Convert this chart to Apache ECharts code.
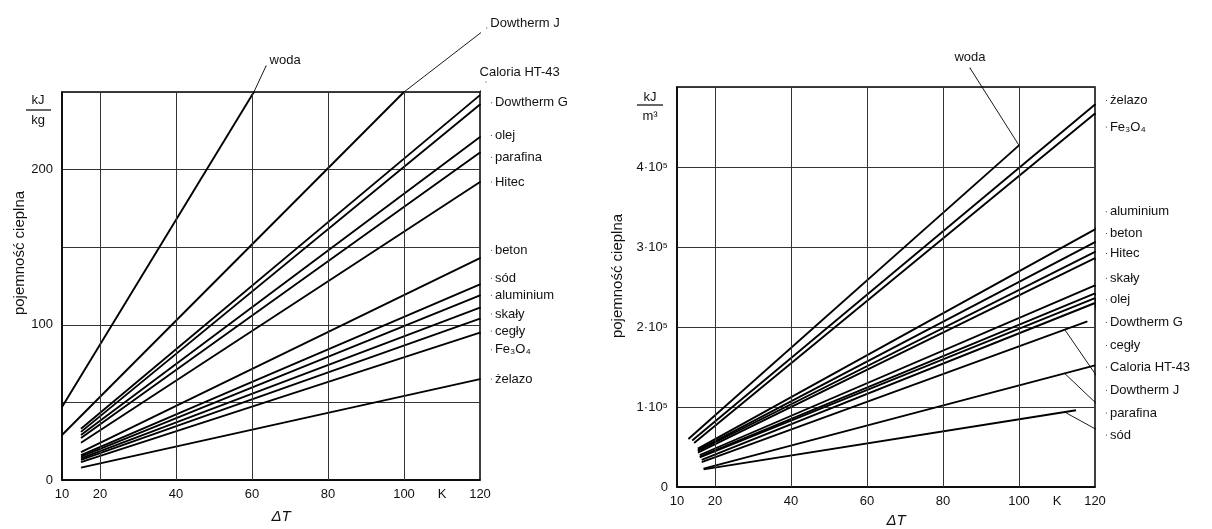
<!DOCTYPE html>
<html><head><meta charset="utf-8">
<script src="https://cdn.jsdelivr.net/npm/echarts@6/dist/echarts.min.js"></script>
<style>html,body{margin:0;padding:0;background:#fff}#c{width:1212px;height:529px}</style>
</head><body><div id="c"></div>
<script>
// ---------- DATA ----------
// Left chart: heat stored per kg, kJ/kg, vs ΔT (K)
const leftNames  = ['woda','Dowtherm J','Caloria HT-43','Dowtherm G','olej','parafina','Hitec','beton','sód','aluminium','skały','cegły','Fe₃O₄','żelazo'];
const leftT0     = [10, 10, 15, 15, 15, 15, 15, 15, 15, 15, 15, 15, 15, 15];
const leftQ0     = [47, 29, 33, 31, 29, 27, 24, 18, 16, 15, 14, 13, 11.5, 8];
const leftT1     = [60.5, 100, 120, 120, 120, 120, 120, 120, 120, 120, 120, 120, 120, 120];
const leftQ1     = [250, 250, 248, 242, 221, 211, 192, 143, 126, 119, 111, 104, 95, 65];
// leader lines of the left chart: from point on curve to label anchor (data units)
const leftLeadFromT = [60.5, 100, 120, 120, 120, 120, 120, 120, 120, 120, 120, 120, 120, 120];
const leftLeadFromQ = [250, 250, 250, 242, 221, 211, 192, 143, 126, 119, 111, 104, 95, 65];
const leftLeadToT   = [63.7, 121.8, 121.6, 123, 123, 123, 123, 123, 123, 123, 123, 123, 123, 123];
const leftLeadToQ   = [266.8, 291.2, 256.4, 243, 222, 208, 192, 148, 130, 119, 107, 96, 84, 65];

// Right chart: heat stored per m³, kJ/m³, vs ΔT (K)
const rightNames = ['woda','żelazo','Fe₃O₄','aluminium','beton','Hitec','skały','olej','Dowtherm G','cegły','Caloria HT-43','Dowtherm J','parafina','sód'];
const rightT0    = [13, 14, 14.5, 15.5, 15.5, 15.5, 15.5, 16, 16, 16, 16.5, 16.5, 17, 17];
const rightQ0    = [60000, 58000, 55000, 48000, 46000, 45000, 43000, 40000, 38000, 37000, 34000, 31000, 23000, 22000];
const rightT1    = [100, 120, 120, 120, 120, 120, 120, 120, 120, 120, 120, 118, 120, 115];
const rightQ1    = [427000, 478000, 467000, 322000, 306000, 294000, 286000, 252000, 242000, 236000, 230000, 207000, 152000, 96000];
const rightLeadFromT = [100, 120, 120, 120, 120, 120, 120, 120, 120, 120, 120, 112, 112, 112];
const rightLeadFromQ = [427000, 478000, 467000, 322000, 306000, 294000, 286000, 252000, 242000, 236000, 230000, 197000, 142000, 93700];
const rightLeadToT   = [87.1, 123, 123, 123, 123, 123, 123, 123, 123, 123, 123, 123, 123, 123];
const rightLeadToQ   = [523750, 483000, 450000, 344000, 317000, 292000, 261000, 234000, 206000, 177000, 150000, 121000, 92500, 65000];

// axes
const xTickLabels = {10:'10', 20:'20', 40:'40', 60:'60', 80:'80', 100:'100', 110:'K', 120:'120'};
const xGridValues = [20, 40, 60, 80, 100];
const leftYLabels = {0:'0', 100:'100', 200:'200'};
const rightYLabels = {0:'0', 100000:'1·10⁵', 200000:'2·10⁵', 300000:'3·10⁵', 400000:'4·10⁵'};

// ---------- CHART ----------
const FONT = 'Liberation Sans';
const TXT = '#111';
const chart = echarts.init(document.getElementById('c'), null, {renderer:'canvas'});

function curve(gi, t0, q0, t1, q1) {
  return {type:'line', xAxisIndex:gi, yAxisIndex:gi, data:[[t0,q0],[t1,q1]], symbol:'none',
    lineStyle:{color:'#000', width:1.9}, silent:true, animation:false, z:3};
}
function leader(gi, name, a, b, c, d, lbl) {
  return {type:'line', xAxisIndex:gi, yAxisIndex:gi, clip:false, silent:true, animation:false, z:4,
    symbol:'circle', symbolSize:1, itemStyle:{color:'#000'},
    lineStyle:{color:'#000', width:0.9},
    label:{show:false},
    data:[[a,b], {value:[c,d], label:Object.assign({show:true, formatter:name, position:'right', distance:3,
      color:TXT, fontFamily:FONT, fontSize:13}, lbl||{})}]};
}
function xAxisCfg(gi) {
  return {type:'value', gridIndex:gi, min:10, max:120, interval:10,
    axisLine:{show:true, lineStyle:{color:'#000', width:1.5}}, axisTick:{show:false}, splitLine:{show:false},
    axisLabel:{color:TXT, fontFamily:FONT, fontSize:13, margin:8, showMinLabel:true, showMaxLabel:true,
      formatter:v => xTickLabels[v] !== undefined ? xTickLabels[v] : ''}};
}
function gridMarks(gi) {
  return {type:'line', xAxisIndex:gi, yAxisIndex:gi, data:[], silent:true, animation:false, z:2,
    markLine:{symbol:'none', silent:true, animation:false, label:{show:false},
      lineStyle:{color:'#333', width:1, type:'solid'},
      data:xGridValues.map(v => ({xAxis:v}))}};
}

const series = [gridMarks(0), gridMarks(1)];
leftNames.forEach((n,i) => series.push(curve(0, leftT0[i], leftQ0[i], leftT1[i], leftQ1[i])));
rightNames.forEach((n,i) => series.push(curve(1, rightT0[i], rightQ0[i], rightT1[i], rightQ1[i])));

const leftLabelOpts = {'woda':{offset:[0,-6]}, 'Dowtherm J':{offset:[0,-5]}, 'Caloria HT-43':{offset:[-10,-10]}};
const rightLabelOpts = {'woda':{position:'top', distance:4}};
leftNames.forEach((n,i) => series.push(leader(0, n, leftLeadFromT[i], leftLeadFromQ[i], leftLeadToT[i], leftLeadToQ[i], leftLabelOpts[n])));
rightNames.forEach((n,i) => series.push(leader(1, n, rightLeadFromT[i], rightLeadFromQ[i], rightLeadToT[i], rightLeadToQ[i], rightLabelOpts[n])));

const gfx = [];
function txt(x, y, s, extra) {
  gfx.push(Object.assign({type:'text', x:x, y:y, silent:true,
    style:Object.assign({text:s, fill:TXT, font:'13px "' + FONT + '"', align:'center', verticalAlign:'middle'}, extra||{})}));
}
// y-axis names
gfx.push({type:'text', x:20, y:253, rotation:Math.PI/2, silent:true,
  style:{text:'pojemność cieplna', fill:TXT, font:'15px "' + FONT + '"', align:'center', verticalAlign:'middle'}});
gfx.push({type:'text', x:618, y:276, rotation:Math.PI/2, silent:true,
  style:{text:'pojemność cieplna', fill:TXT, font:'15px "' + FONT + '"', align:'center', verticalAlign:'middle'}});
// units
txt(38, 100, 'kJ'); txt(38, 120, 'kg');
gfx.push({type:'line', silent:true, shape:{x1:26, y1:110, x2:51, y2:110}, style:{stroke:'#000', lineWidth:1.2}});
txt(650, 97, 'kJ'); txt(650, 116, 'm³');
gfx.push({type:'line', silent:true, shape:{x1:637, y1:105, x2:663, y2:105}, style:{stroke:'#000', lineWidth:1.2}});
// ΔT
txt(281, 517, 'ΔT', {font:'italic 15px "' + FONT + '"'});
txt(896, 521, 'ΔT', {font:'italic 15px "' + FONT + '"'});

chart.setOption({
  backgroundColor:'#fff',
  animation:false,
  grid:[
    {left:62, top:92, width:418, height:388, show:true, borderColor:'#000', borderWidth:1.5, backgroundColor:'transparent'},
    {left:677, top:87, width:418, height:400, show:true, borderColor:'#000', borderWidth:1.5, backgroundColor:'transparent'}
  ],
  xAxis:[xAxisCfg(0), xAxisCfg(1)],
  yAxis:[
    {type:'value', gridIndex:0, min:0, max:250, interval:50,
      axisLine:{show:true, lineStyle:{color:'#000', width:1.5}}, axisTick:{show:false},
      splitLine:{show:true, lineStyle:{color:'#333', width:1}},
      axisLabel:{color:TXT, fontFamily:FONT, fontSize:13, margin:9, formatter:v => leftYLabels[v] || ''}},
    {type:'value', gridIndex:1, min:0, max:500000, interval:100000,
      axisLine:{show:true, lineStyle:{color:'#000', width:1.5}}, axisTick:{show:false},
      splitLine:{show:true, lineStyle:{color:'#333', width:1}},
      axisLabel:{color:TXT, fontFamily:FONT, fontSize:13, margin:9, formatter:v => rightYLabels[v] || ''}}
  ],
  series:series,
  graphic:gfx
});
</script></body></html>
